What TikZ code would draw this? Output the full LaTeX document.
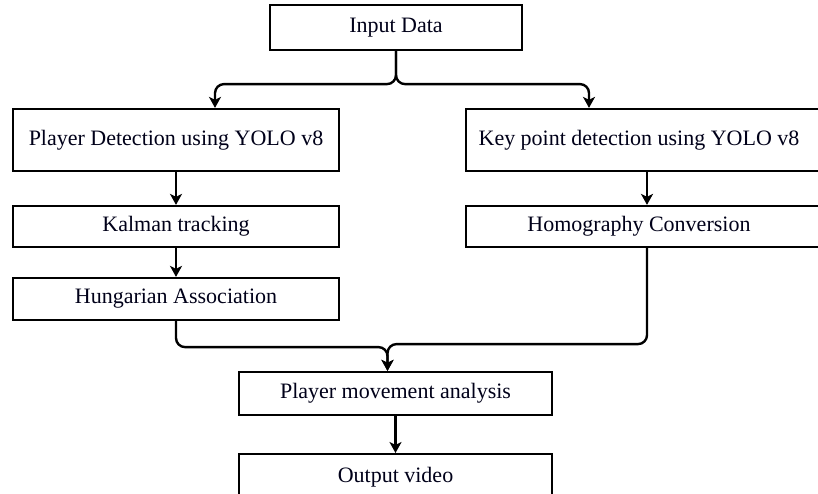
\documentclass[tikz,border=0pt]{standalone}
\usepackage{fontspec}
\setmainfont{Liberation Serif}
\usetikzlibrary{arrows.meta}
\begin{document}
\begin{tikzpicture}[x=1pt,y=-1pt,
  box/.style={draw=black, line width=2.2pt, rectangle, inner sep=0pt,
    font=\fontsize{22}{26}\selectfont, text=black!90!blue},
  arr/.style={draw=black, line width=2.4pt, rounded corners=9pt,
    -{Stealth[length=11pt,width=12pt,inset=3pt]}}]
\useasboundingbox (0,0) rectangle (818,494);
\clip (0,0) rectangle (818,494);
\fill[white] (0,0) rectangle (818,494);
\node[box, minimum width=252pt, minimum height=45pt] (in) at (396,27.5) {Input Data};
\node[box, minimum width=326pt, minimum height=62pt] (pd) at (176,140) {Player Detection using YOLO v8};
\node[box, minimum width=362pt, minimum height=62pt] (kp) at (647,140) {\hspace*{-16pt}Key point detection using YOLO v8};
\node[box, minimum width=326pt, minimum height=41pt] (kt) at (176,226.5) {Kalman tracking};
\node[box, minimum width=362pt, minimum height=41pt] (hc) at (647,226.5) {\hspace*{-16pt}Homography Conversion};
\node[box, minimum width=326pt, minimum height=42pt] (ha) at (176,299) {Hungarian Association};
\node[box, minimum width=313pt, minimum height=43pt] (pm) at (395.5,393.5) {Player movement analysis};
\node[box, minimum width=313pt, minimum height=50pt, anchor=north] (ov) at (395.5,453) {\raisebox{8pt}{Output video}};
\draw[arr] (in.south) -- ++(0,33) -| ([xshift=39pt]pd.north);
\draw[arr] (in.south) -- ++(0,33) -| ([xshift=-58pt]kp.north);
\draw[arr] (pd) -- (kt);
\draw[arr] (kt) -- (ha);
\draw[arr] (kp.south) -- (hc.north);
\draw[arr] (ha.south) -- ++(0,26) -| ([xshift=-8pt]pm.north);
\draw[arr] (hc.south) -- ++(0,96) -| ([xshift=-8pt]pm.north);
\draw[arr] (pm.south -| ov.north) -- (ov.north);
\end{tikzpicture}
\end{document}
